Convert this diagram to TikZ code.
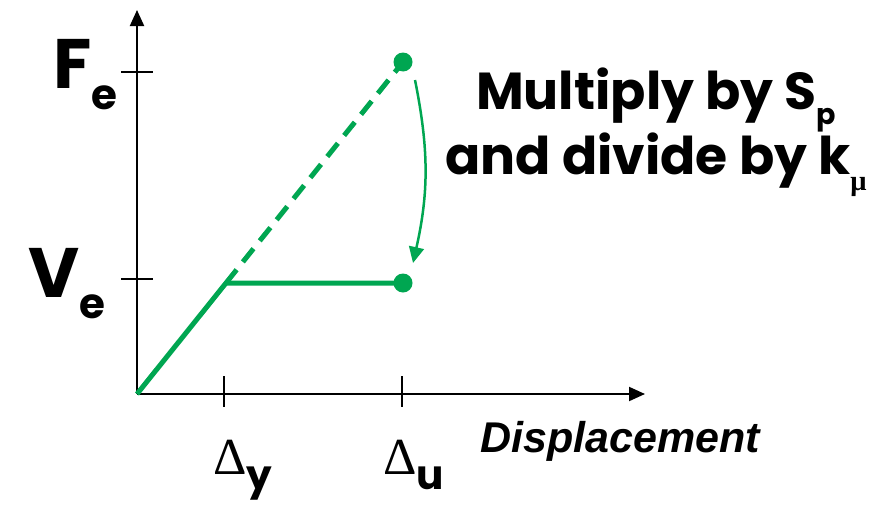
\documentclass[tikz,border=0pt]{standalone}
\usepackage{fontspec}
\usepackage{tikz}
\usetikzlibrary{arrows.meta, positioning, calc}

\newfontfamily\comicfont{Poppins}
\newfontfamily\greekfont{Liberation Serif}
\newfontfamily\axisfont{Liberation Sans}
\definecolor{curvegreen}{RGB}{0,166,81}
\newcommand{\lowsub}[2][0.55]{\raisebox{-0.3em}{\scalebox{#1}{#2}}}

\begin{document}
\begin{tikzpicture}[
    x=1pt, y=-1pt,
    axis/.style={-{Triangle[length=16pt, width=14pt]}, line width=2pt, black},
    tickmark/.style={line width=2pt, black},
    curve/.style={line width=5pt, curvegreen, line join=round},
    dashcurve/.style={curve, dash pattern=on 17pt off 10pt},
    dot/.style={circle, fill=curvegreen, inner sep=0pt, minimum size=19pt},
    turnarrow/.style={-{Triangle[length=16pt, width=15pt]}, line width=2.5pt, curvegreen},
    forcelabel/.style={font=\comicfont\bfseries\fontsize{70}{70}\selectfont, inner sep=0pt, anchor=base west},
    deltalabel/.style={font=\greekfont\fontsize{52}{52}\selectfont, inner sep=0pt, anchor=base west},
    notelabel/.style={font=\comicfont\bfseries\fontsize{52}{60}\selectfont, inner sep=0pt, align=center},
]
    \useasboundingbox (0,0) rectangle (896,506);

    % Axes
    \coordinate (origin) at (137,394);
    \coordinate (ytop) at (137,10);
    \coordinate (xend) at (645,394);
    \draw[axis] (origin) -- (ytop);
    \draw[axis] (origin) -- (xend);

    % Ticks
    \draw[tickmark] (121,72) -- (153,72);
    \draw[tickmark] (121,279) -- (153,279);
    \draw[tickmark] (224,376) -- (224,407);
    \draw[tickmark] (402,376) -- (402,407);

    % Response curves
    \coordinate (yield) at (226,283);
    \node[dot] (fedot) at (403,62) {};
    \node[dot] (vudot) at (403,283) {};
    \draw[curve] (origin) -- (yield) -- (vudot.center);
    \draw[dashcurve] (yield) -- (fedot.center);

    % Reduction arrow
    \draw[turnarrow] ([shift={(12,18)}]fedot.center) to[bend left=12] ([shift={(10,-20)}]vudot.center);

    % Labels
    \node[forcelabel] (fe) at (53,88) {F\lowsub[0.6]{e}};
    \node[forcelabel] (ve) at (28,297) {V\lowsub[0.6]{e}};
    \node[deltalabel] (dy) at (213,474) {Δ\lowsub[0.78]{\comicfont\bfseries y}};
    \node[deltalabel] (du) at (383,474) {Δ\lowsub[0.78]{\comicfont\bfseries u}};
    \node[notelabel] (note) at (656,132) {Multiply by S\lowsub{p}\\and divide by k\lowsub{\greekfont μ}};
    \node[font=\axisfont\bfseries\itshape\fontsize{43}{43}\selectfont, inner sep=0pt, anchor=base west] (disp) at (480,452) {Displacement};

\end{tikzpicture}
\end{document}
